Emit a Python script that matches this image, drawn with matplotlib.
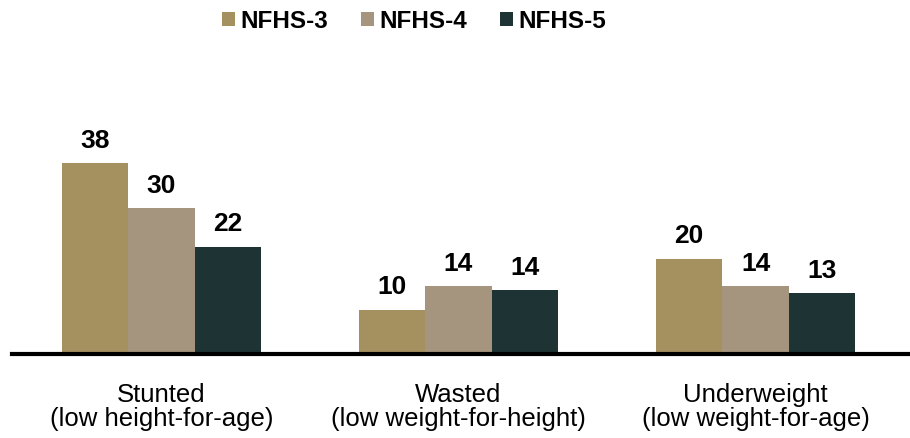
import matplotlib
matplotlib.use("Agg")
import matplotlib.pyplot as plt
import numpy as np

plt.rcParams['font.family'] = ['Liberation Sans', 'DejaVu Sans']

categories = ["Stunted\n(low height-for-age)",
              "Wasted\n(low weight-for-height)",
              "Underweight\n(low weight-for-age)"]
series_names = ["NFHS-3", "NFHS-4", "NFHS-5"]
nfhs3 = [38.4, 9.9, 19.8]
nfhs4 = [29.6, 14.4, 14.4]
nfhs5 = [22.1, 13.7, 13.1]
labels3 = ["38", "10", "20"]
labels4 = ["30", "14", "14"]
labels5 = ["22", "14", "13"]
colors = ["#A5915F", "#A6957E", "#1E3434"]

fig = plt.figure(figsize=(9.10, 4.38), dpi=100)
ax = fig.add_axes([12/910, (438-354)/438, 898/910, (354-60)/438])

x = np.arange(len(categories))
w = 0.224
series = [nfhs3, nfhs4, nfhs5]
labs = [labels3, labels4, labels5]
for i, (vals, lab, c, name) in enumerate(zip(series, labs, colors, series_names)):
    pos = x + (i - 1) * w
    bars = ax.bar(pos, vals, width=w, color=c, label=name, zorder=2)
    for b, t in zip(bars, lab):
        ax.annotate(t, (b.get_x() + b.get_width()/2, b.get_height()),
                    xytext=(0, 11.0), textcoords='offset points',
                    ha='center', va='baseline', fontsize=19, fontweight='bold',
                    color='black')

ax.set_xlim(-0.503, 2.52)
ax.set_ylim(1.25, 58.4)
for s in ['top', 'right', 'left']:
    ax.spines[s].set_visible(False)
ax.spines['bottom'].set_linewidth(3.0)
ax.spines['bottom'].set_color('black')
ax.spines['bottom'].set_zorder(3)
ax.set_yticks([])
ax.set_xticks(x)
ax.set_xticklabels(categories, fontsize=18.5, linespacing=1.0)
ax.tick_params(axis='x', length=0, pad=21)

fig.legend(loc='center', bbox_to_anchor=(414/910, 1 - 21/438), ncol=3,
           frameon=False, prop={'size': 17.5, 'weight': 'bold'},
           handlelength=0.54, handleheight=0.54, handletextpad=0.22,
           columnspacing=1.35, borderaxespad=0)

fig.savefig("out.png", dpi=100)
